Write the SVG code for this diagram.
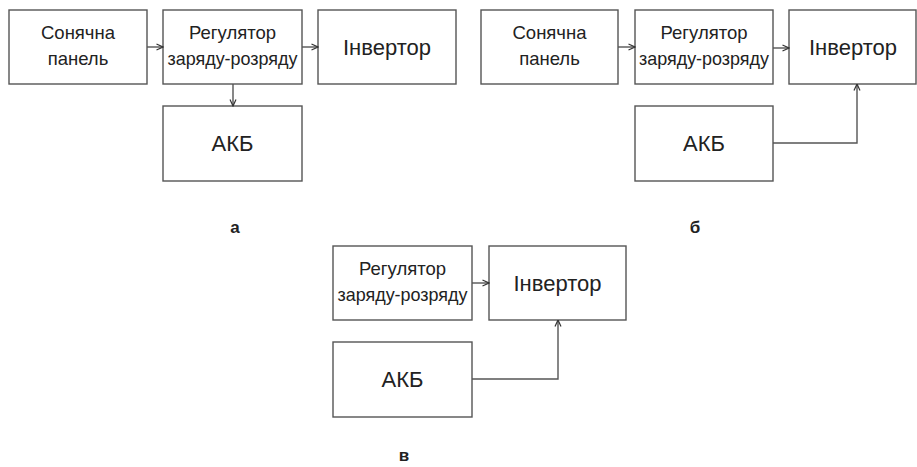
<svg xmlns="http://www.w3.org/2000/svg" width="917" height="467" viewBox="0 0 917 467">
<style>
.box{fill:#fff;stroke:#555;stroke-width:1.4}
.t{font-family:"Liberation Sans",Arial,sans-serif;fill:#222;text-anchor:middle}
.s{font-size:18.5px}
.b{font-size:22px}
.lab{font-family:"Liberation Sans",Arial,sans-serif;fill:#222;text-anchor:middle;font-size:17px;font-weight:bold}
.c{fill:none;stroke:#555;stroke-width:1.4;marker-end:url(#ah)}
</style>
<defs>
<marker id="ah" viewBox="0 0 8 8" refX="7.5" refY="4" markerWidth="8" markerHeight="8" markerUnits="userSpaceOnUse" orient="auto">
<path d="M1,1 L7.5,4 L1,7" fill="none" stroke="#333" stroke-width="1.2"/>
</marker>
</defs>
<rect width="917" height="467" fill="#fff"/>

<g id="a-panel"><rect class="box" x="9" y="10" width="138" height="74"/>
<text class="t s" x="78" y="39">Сонячна</text><text class="t s" x="78" y="65">панель</text></g>
<g id="a-reg"><rect class="box" x="163" y="10" width="139" height="74"/>
<text class="t s" x="232.5" y="39">Регулятор</text><text class="t s" x="232.5" y="65" textLength="130" lengthAdjust="spacingAndGlyphs">заряду-розряду</text></g>
<g id="a-inv"><rect class="box" x="318" y="10" width="138" height="74"/>
<text class="t b" x="387" y="55">Інвертор</text></g>
<g id="a-akb"><rect class="box" x="163" y="106" width="139" height="75"/>
<text class="t b" x="232.5" y="151">АКБ</text></g>
<g id="a-label"><text class="lab" x="235" y="233">а</text></g>

<g id="b-panel"><rect class="box" x="481" y="10" width="137" height="74"/>
<text class="t s" x="549.5" y="39">Сонячна</text><text class="t s" x="549.5" y="65">панель</text></g>
<g id="b-reg"><rect class="box" x="635" y="10" width="138" height="74"/>
<text class="t s" x="704" y="39">Регулятор</text><text class="t s" x="704" y="65" textLength="130" lengthAdjust="spacingAndGlyphs">заряду-розряду</text></g>
<g id="b-inv"><rect class="box" x="789" y="10" width="127" height="74"/>
<text class="t b" x="853" y="55">Інвертор</text></g>
<g id="b-akb"><rect class="box" x="635" y="106" width="138" height="75"/>
<text class="t b" x="704" y="151">АКБ</text></g>
<g id="b-label"><text class="lab" x="695" y="233">б</text></g>

<g id="c-reg"><rect class="box" x="333" y="246" width="139" height="74"/>
<text class="t s" x="402.5" y="275">Регулятор</text><text class="t s" x="402.5" y="301" textLength="130" lengthAdjust="spacingAndGlyphs">заряду-розряду</text></g>
<g id="c-inv"><rect class="box" x="489" y="246" width="137" height="74"/>
<text class="t b" x="557.5" y="291">Інвертор</text></g>
<g id="c-akb"><rect class="box" x="333" y="342" width="139" height="75"/>
<text class="t b" x="402.5" y="387">АКБ</text></g>
<g id="c-label"><text class="lab" x="404" y="461">в</text></g>

<g id="connectors">
<path class="c" d="M147,47 H163"/>
<path class="c" d="M302,47 H318"/>
<path class="c" d="M233,84 V106"/>
<path class="c" d="M618,47 H635"/>
<path class="c" d="M773,48 H789"/>
<path class="c" d="M773,143 H857 V84"/>
<path class="c" d="M472,283 H489"/>
<path class="c" d="M472,379 H558 V320"/>
</g>
</svg>
